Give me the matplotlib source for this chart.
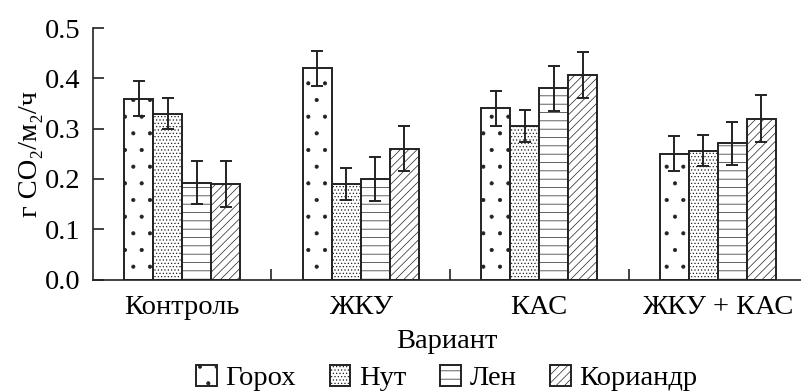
import matplotlib
matplotlib.use("Agg")
import matplotlib.pyplot as plt
import numpy as np

fam = ['Liberation Serif', 'DejaVu Serif']
plt.rcParams['font.family'] = fam
plt.rcParams['hatch.linewidth'] = 0.5

categories = ["Контроль", "ЖКУ", "КАС", "ЖКУ + КАС"]
crops = ["Горох", "Нут", "Лен", "Кориандр"]
values = {
    "Горох":    [0.36, 0.42, 0.341, 0.25],
    "Нут":      [0.33, 0.19, 0.305, 0.256],
    "Лен":      [0.193, 0.20, 0.38, 0.271],
    "Кориандр": [0.19, 0.26, 0.407, 0.32],
}
errors = {
    "Горох":    [0.035, 0.035, 0.035, 0.035],
    "Нут":      [0.031, 0.031, 0.032, 0.031],
    "Лен":      [0.043, 0.043, 0.044, 0.043],
    "Кориандр": [0.046, 0.045, 0.046, 0.047],
}
hatches = ['.', '.....', '--', '////']
fs = 20.5

fig = plt.figure(figsize=(8.01, 3.91), dpi=100)
ax = fig.add_axes([0.116, 0.285, 0.884, 0.643])

x = np.arange(len(categories))
w = 0.163
for i, c in enumerate(crops):
    pos = x + (i - 1.5) * w
    ax.bar(pos, values[c], w, color='white', edgecolor='#222222',
           linewidth=1.4, hatch=hatches[i], label=c, zorder=2)
    ax.errorbar(pos, values[c], yerr=errors[c], fmt='none', ecolor='#222222',
                elinewidth=1.4, capsize=4, capthick=1.4, zorder=3)

ax.set_xlim(-0.5, 3.466)
ax.set_ylim(0, 0.5)
ax.set_yticks(np.arange(0, 0.51, 0.1))
ax.set_yticklabels([f"{v:.1f}" for v in np.arange(0, 0.51, 0.1)], fontsize=fs, family=fam)
ax.set_xticks(x)
ax.set_xticklabels(categories, fontsize=fs, family=fam)
ax.set_xticks([0.5, 1.5, 2.5], minor=True)
ax.tick_params(axis='x', which='major', length=0, pad=11)
ax.tick_params(axis='x', which='minor', direction='in', length=8, width=1.2, color='#222222')
ax.tick_params(axis='y', direction='in', length=8, width=1.2, color='#222222', pad=9)
for s in ['top', 'right']:
    ax.spines[s].set_visible(False)
for s in ['left', 'bottom']:
    ax.spines[s].set_linewidth(1.2)
    ax.spines[s].set_color('#222222')

ax.set_xlabel("Вариант", fontsize=fs, family=fam)
ax.xaxis.set_label_coords(0.5, -0.195)
ax.set_ylabel("г CO₂/м₂/ч", fontsize=fs, family=fam)
ax.yaxis.set_label_coords(-0.07, 0.5)

ax.legend(loc='upper center', bbox_to_anchor=(0.5, -0.262), ncol=4, frameon=False,
          prop={'family': fam, 'size': fs}, handlelength=0.72, handleheight=0.72,
          columnspacing=1.2, handletextpad=0.3, borderpad=0.2)

fig.savefig("out.png", dpi=100)
